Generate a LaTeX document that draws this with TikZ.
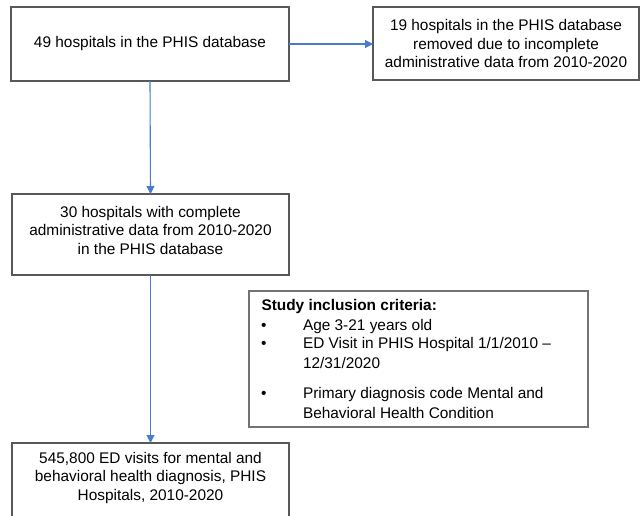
\documentclass[tikz,border=0pt]{standalone}
\usepackage{fontspec}
\setmainfont{Liberation Sans}
\usetikzlibrary{arrows.meta}
\definecolor{boxgray}{RGB}{88,88,88}
\definecolor{critgray}{RGB}{115,115,115}
\definecolor{arrblue}{RGB}{72,125,205}
\begin{document}
\begin{tikzpicture}[x=1pt,y=-1pt,
  every node/.style={font=\fontsize{15.4}{18.5}\selectfont, inner sep=0pt, outer sep=0pt},
  box/.style={draw=boxgray, line width=1.2pt, rectangle, align=center},
  critbox/.style={draw=critgray, line width=1.3pt, rectangle},
  txt/.style={align=center},
  ltxt/.style={anchor=west},
  arr/.style={draw=arrblue, line width=1.1pt, -{Triangle[length=8pt,width=8pt]}}]
\useasboundingbox[fill=white] (0,0) rectangle (642,515);
\begin{scope}
\clip (0,0) rectangle (642,515);
\node[box, minimum width=278pt, minimum height=74pt] (b1) at (150,44) {49 hospitals in the PHIS database};
\node[box, minimum width=266pt, minimum height=73pt] (b2) at (506,43.5) {19 hospitals in the PHIS database\\removed due to incomplete\\administrative data from 2010-2020};
\node[box, minimum width=277pt, minimum height=81pt] (b3) at (150.5,234.5) {};
\node[txt] (t3) at (150.5,230) {30 hospitals with complete\\administrative data from 2010-2020\\in the PHIS database};
\node[box, minimum width=277pt, minimum height=90pt, anchor=north] (b4) at (150.5,443) {};
\node[txt] (t4) at (150.5,478) {545,800 ED visits for mental and\\behavioral health diagnosis, PHIS\\Hospitals, 2010-2020};
\node[critbox, minimum width=339pt, minimum height=136pt] (c) at (418.5,359) {};
\node[ltxt] (c0) at (261.5,307) {\bfseries Study inclusion criteria:};
\node[ltxt] (d1) at (261,327) {\textbullet};
\node[ltxt] (c1) at (303,327) {Age 3-21 years old};
\node[ltxt] (d2) at (261,345) {\textbullet};
\node[ltxt] (c2) at (303,345) {ED Visit in PHIS Hospital 1/1/2010 –};
\node[ltxt] (c3) at (303,363) {12/31/2020};
\node[ltxt] (d4) at (261,395) {\textbullet};
\node[ltxt] (c4) at (303,395) {Primary diagnosis code Mental and};
\node[ltxt] (c5) at (303,413) {Behavioral Health Condition};
\draw[arr] (b1.east) -- (b2.west |- b1.east);
\draw[arr] (b1.south) -- (b3.north);
\draw[arr] (b3.south) -- (b4.north);
\end{scope}
\end{tikzpicture}
\end{document}
